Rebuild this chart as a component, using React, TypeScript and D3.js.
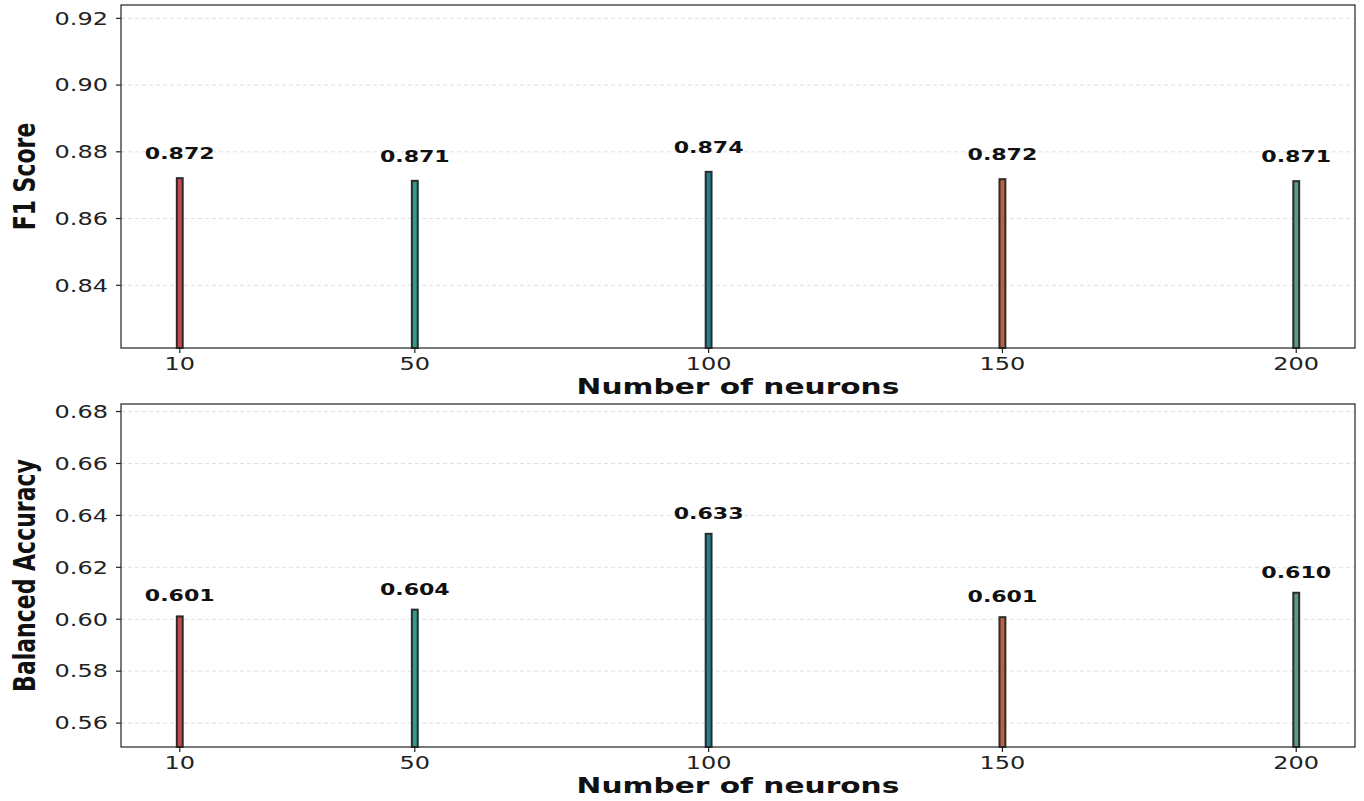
import * as d3 from "d3"

const neurons = [10, 50, 100, 150, 200]
const f1Scores = [0.8721, 0.8713, 0.874, 0.8718, 0.8712]
const balancedAcc = [0.6011, 0.6037, 0.6329, 0.6008, 0.6102]
const barColors = ["#c44a4e", "#2a9f8e", "#217f94", "#bd6040", "#5a9a82"]
const f1Ticks = [0.84, 0.86, 0.88, 0.9, 0.92]
const accTicks = [0.56, 0.58, 0.6, 0.62, 0.64, 0.66, 0.68]
const xTicks = [10, 50, 100, 150, 200]

const W = 1364
const H = 801
const SX = 1.38 // the reference is stretched horizontally
const FONT = "DejaVu Sans"

type PanelProps = {
    top: number
    bottom: number
    values: number[]
    ticks: number[]
    yLabel: string
}

function Panel({ top, bottom, values, ticks, yLabel }: PanelProps) {
    const left = 121
    const right = 1355
    const x = d3.scaleLinear().domain([0, 210]).range([left, right])
    const y = d3
        .scaleLinear()
        .domain([(d3.min(values) as number) - 0.05, (d3.max(values) as number) + 0.05])
        .range([bottom, top])
    const barW = x(1) - x(0)

    return (
        <g>
            {/* grid */}
            {ticks.map((t) => (
                <line key={"g" + t} x1={left} x2={right} y1={y(t)} y2={y(t)}
                    stroke="#d8d8d8" strokeWidth={0.8} strokeDasharray="4,3" />
            ))}
            {/* bars */}
            {values.map((v, i) => (
                <rect key={"b" + i} x={x(neurons[i]) - barW / 2} y={y(v)} width={barW}
                    height={bottom - y(v)} fill={barColors[i]} stroke="#2b2b2b" strokeWidth={2} />
            ))}
            {/* value labels */}
            {values.map((v, i) => (
                <text key={"l" + i} transform={`translate(${x(neurons[i])},${y(v + 0.005) - 2}) scale(${SX},1)`}
                    textAnchor="middle" fontFamily={FONT} fontWeight="bold" fontSize={16} fill="#111">
                    {v.toFixed(3)}
                </text>
            ))}
            {/* frame */}
            <rect x={left} y={top} width={right - left} height={bottom - top} fill="none" stroke="#222" strokeWidth={1.2} />
            {/* y axis */}
            {ticks.map((t) => (
                <g key={"y" + t}>
                    <line x1={left - 5} x2={left} y1={y(t)} y2={y(t)} stroke="#222" strokeWidth={1.2} />
                    <text transform={`translate(${left - 13},${y(t)}) scale(${SX},1)`} dy="0.36em"
                        textAnchor="end" fontFamily={FONT} fontSize={17.4} fill="#222">
                        {t.toFixed(2)}
                    </text>
                </g>
            ))}
            {/* x axis */}
            {xTicks.map((t) => (
                <g key={"x" + t}>
                    <line x1={x(t)} x2={x(t)} y1={bottom} y2={bottom + 5} stroke="#222" strokeWidth={1.2} />
                    <text transform={`translate(${x(t)},${bottom + 22}) scale(${SX},1)`}
                        textAnchor="middle" fontFamily={FONT} fontSize={17.4} fill="#222">
                        {t}
                    </text>
                </g>
            ))}
            <text transform={`translate(${(left + right) / 2},${bottom + 46}) scale(${SX},1)`}
                textAnchor="middle" fontFamily={FONT} fontWeight="bold" fontSize={21.5} fill="#111">
                Number of neurons
            </text>
            <text transform={`translate(35,${(top + bottom) / 2}) scale(${SX},1) rotate(-90)`}
                textAnchor="middle" fontFamily={FONT} fontWeight="bold" fontSize={22} fill="#111">
                {yLabel}
            </text>
        </g>
    )
}

export default function App() {
    return (
        <svg width={W} height={H} style={{ position: "absolute", left: 0, top: 0, background: "#fff" }}>
            <rect width={W} height={H} fill="#fff" />
            <Panel top={5} bottom={348} values={f1Scores} ticks={f1Ticks} yLabel="F1 Score" />
            <Panel top={404} bottom={747} values={balancedAcc} ticks={accTicks} yLabel="Balanced Accuracy" />
        </svg>
    )
}
